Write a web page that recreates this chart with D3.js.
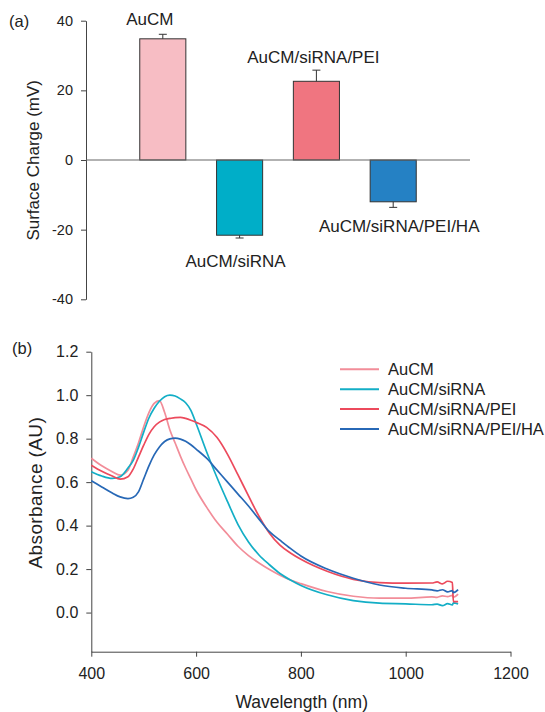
<!DOCTYPE html>
<html>
<head>
<meta charset="utf-8">
<script src="https://cdn.jsdelivr.net/npm/d3@7"></script>
<style>
  body { margin: 0; background: #fff; }
  svg { font-family: "Liberation Sans", Arial, sans-serif; }
</style>
</head>
<body>
<div class="svg-container"></div>
<script>
// ---- data ----
const groups = ["AuCM", "AuCM/siRNA", "AuCM/siRNA/PEI", "AuCM/siRNA/PEI/HA"];
const charge = [34.8, -21.6, 22.6, -12.0];
const chargeErr = [1.3, 0.8, 3.2, 1.6];
const chargeTicks = [-40, -20, 0, 20, 40];

const wavelength = [400, 420, 440, 455, 470, 480, 490, 500, 510, 520, 530, 540, 550, 560, 570, 580, 590, 600,
  620, 640, 660, 680, 700, 720, 740, 760, 780, 800, 850, 900, 950, 1000, 1050, 1060, 1070, 1080, 1089, 1091, 1100];
const absAuCM = [0.71, 0.675, 0.648, 0.632, 0.655, 0.715, 0.78, 0.855, 0.92, 0.962, 0.975, 0.92, 0.84, 0.78, 0.72, 0.665, 0.615, 0.565,
  0.485, 0.415, 0.36, 0.305, 0.262, 0.228, 0.198, 0.172, 0.15, 0.133, 0.097, 0.075, 0.066, 0.066, 0.072, 0.07, 0.077, 0.073, 0.079, 0.071, 0.085];
const absSiRNA = [0.648, 0.628, 0.617, 0.625, 0.665, 0.7, 0.76, 0.83, 0.895, 0.94, 0.972, 0.993, 1.0, 0.996, 0.983, 0.965, 0.93, 0.87,
  0.74, 0.62, 0.51, 0.405, 0.325, 0.265, 0.22, 0.18, 0.15, 0.125, 0.082, 0.055, 0.043, 0.04, 0.036, 0.039, 0.032, 0.041, 0.035, 0.045, 0.04];
const absPEI = [0.678, 0.65, 0.628, 0.614, 0.625, 0.66, 0.715, 0.77, 0.82, 0.855, 0.876, 0.888, 0.893, 0.897, 0.898, 0.893, 0.885, 0.875,
  0.852, 0.805, 0.728, 0.633, 0.537, 0.443, 0.365, 0.31, 0.274, 0.245, 0.19, 0.153, 0.138, 0.135, 0.136, 0.141, 0.132, 0.144, 0.138, 0.05, 0.05];
const absHA = [0.606, 0.578, 0.55, 0.532, 0.524, 0.53, 0.555, 0.615, 0.675, 0.725, 0.762, 0.787, 0.799, 0.802, 0.798, 0.788, 0.772, 0.752,
  0.71, 0.655, 0.6, 0.545, 0.49, 0.43, 0.372, 0.333, 0.295, 0.26, 0.2, 0.158, 0.127, 0.112, 0.104, 0.1, 0.105, 0.095, 0.101, 0.092, 0.106];
const absTicks = [0, 0.2, 0.4, 0.6, 0.8, 1.0, 1.2];
const wlTicks = [400, 600, 800, 1000, 1200];

const barColors = ["#f7bdc4", "#00aec8", "#f07580", "#2581c4"];
const lineColors = ["#f28d99", "#13aec6", "#ec4a5c", "#2768b6"];

const w = 545, h = 712;
const svg = d3.select(".svg-container")
  .append("svg")
  .attr("width", w)
  .attr("height", h);

// ================= panel (a) =================
const xA = d3.scaleBand()
  .domain(groups)
  .range([86, 470])
  .paddingInner(0.4)
  .paddingOuter(0.7);

const yA = d3.scaleLinear()
  .domain([-40, 40])
  .range([299.3, 20.7]);

// plain hyphen minus like the original figure
const axA = svg.append("g")
  .attr("transform", "translate(86,0)")
  .call(d3.axisLeft(yA).tickValues(chargeTicks).tickFormat(d => String(d))
    .tickSize(5).tickSizeOuter(0).tickPadding(8));
axA.selectAll("text").attr("font-size", "14.5px").attr("font-family", null).attr("fill", "#222");
axA.selectAll("line, path").attr("stroke", "#444");

// bars
svg.selectAll(".bar")
  .data(groups)
  .enter()
  .append("rect")
  .attr("class", "bar")
  .attr("x", d => xA(d))
  .attr("y", (d, i) => yA(Math.max(0, charge[i])))
  .attr("width", xA.bandwidth())
  .attr("height", (d, i) => Math.abs(yA(charge[i]) - yA(0)))
  .attr("fill", (d, i) => barColors[i])
  .attr("stroke", "#333")
  .attr("stroke-width", 1);

// zero line
svg.append("line")
  .attr("x1", 86).attr("x2", 470)
  .attr("y1", yA(0)).attr("y2", yA(0))
  .attr("stroke", "#666").attr("stroke-width", 1.2);

// one-sided error bars
const eb = svg.selectAll(".err")
  .data(groups)
  .enter()
  .append("g")
  .attr("stroke", "#333")
  .attr("stroke-width", 1);
eb.append("line")
  .attr("x1", d => xA(d) + xA.bandwidth() / 2)
  .attr("x2", d => xA(d) + xA.bandwidth() / 2)
  .attr("y1", (d, i) => yA(charge[i]))
  .attr("y2", (d, i) => yA(charge[i] + Math.sign(charge[i]) * chargeErr[i]));
eb.append("line")
  .attr("x1", d => xA(d) + xA.bandwidth() / 2 - 4)
  .attr("x2", d => xA(d) + xA.bandwidth() / 2 + 4)
  .attr("y1", (d, i) => yA(charge[i] + Math.sign(charge[i]) * chargeErr[i]))
  .attr("y2", (d, i) => yA(charge[i] + Math.sign(charge[i]) * chargeErr[i]));

// bar labels (offset from bar centre / error bar end)
const labelDx = [-13, -4, -3, 6];
const labelDy = [-9.3, 28.7, -6.7, 25];
svg.selectAll(".blabel")
  .data(groups)
  .enter()
  .append("text")
  .attr("x", (d, i) => xA(d) + xA.bandwidth() / 2 + labelDx[i])
  .attr("y", (d, i) => yA(charge[i] + Math.sign(charge[i]) * chargeErr[i]) + labelDy[i])
  .attr("text-anchor", "middle")
  .attr("font-size", "17px")
  .attr("fill", "#222")
  .text(d => d);

svg.append("text")
  .attr("transform", "translate(38.5,160.3) rotate(-90)")
  .attr("text-anchor", "middle")
  .attr("font-size", "17px")
  .attr("fill", "#222")
  .text("Surface Charge (mV)");

svg.append("text")
  .attr("x", 9).attr("y", 26.5)
  .attr("font-size", "16.5px")
  .attr("fill", "#222")
  .text("(a)");

// ================= panel (b) =================
const xB = d3.scaleLinear()
  .domain([400, 1200])
  .range([91.3, 510.5]);

const yB = d3.scaleLinear()
  .domain([-0.18, 1.2])
  .range([651.7, 351.7]);

const axBy = svg.append("g")
  .attr("transform", "translate(91.3,0)")
  .call(d3.axisLeft(yB).tickValues(absTicks).tickFormat(d3.format(".1f")).tickSize(5).tickSizeOuter(0).tickPadding(8));
const axBx = svg.append("g")
  .attr("transform", "translate(0,651.7)")
  .call(d3.axisBottom(xB).tickValues(wlTicks).tickFormat(d => String(d)).tickSize(5).tickSizeOuter(0).tickPadding(11));
[axBy, axBx].forEach(g => {
  g.selectAll("text").attr("font-size", "16px").attr("font-family", null).attr("fill", "#222");
  g.selectAll("line, path").attr("stroke", "#444");
});

const series = [absAuCM, absSiRNA, absPEI, absHA];
const line = d3.line()
  .x((d, i) => xB(wavelength[i]))
  .y(d => yB(d))
  .curve(d3.curveMonotoneX);

svg.selectAll(".curve")
  .data(series)
  .enter()
  .append("path")
  .attr("class", "curve")
  .attr("d", d => line(d))
  .attr("fill", "none")
  .attr("stroke", (d, i) => lineColors[i])
  .attr("stroke-width", 1.7);

// legend
const leg = svg.selectAll(".leg")
  .data(groups)
  .enter()
  .append("g")
  .attr("transform", (d, i) => "translate(340," + (369.3 + i * 19.9) + ")");
leg.append("line")
  .attr("x1", 0).attr("x2", 39)
  .attr("stroke", (d, i) => lineColors[i])
  .attr("stroke-width", 2);
leg.append("text")
  .attr("x", 48)
  .attr("dy", "0.36em")
  .attr("font-size", "16.5px")
  .attr("fill", "#222")
  .text(d => d);

svg.append("text")
  .attr("transform", "translate(42,492.7) rotate(-90)")
  .attr("text-anchor", "middle")
  .attr("font-size", "19px")
  .attr("letter-spacing", "0.4px")
  .attr("fill", "#222")
  .text("Absorbance (AU)");

svg.append("text")
  .attr("x", 301.7).attr("y", 707.5)
  .attr("text-anchor", "middle")
  .attr("font-size", "17.5px")
  .attr("fill", "#222")
  .text("Wavelength (nm)");

svg.append("text")
  .attr("x", 12).attr("y", 353.5)
  .attr("font-size", "16.5px")
  .attr("fill", "#222")
  .text("(b)");
</script>
</body>
</html>
